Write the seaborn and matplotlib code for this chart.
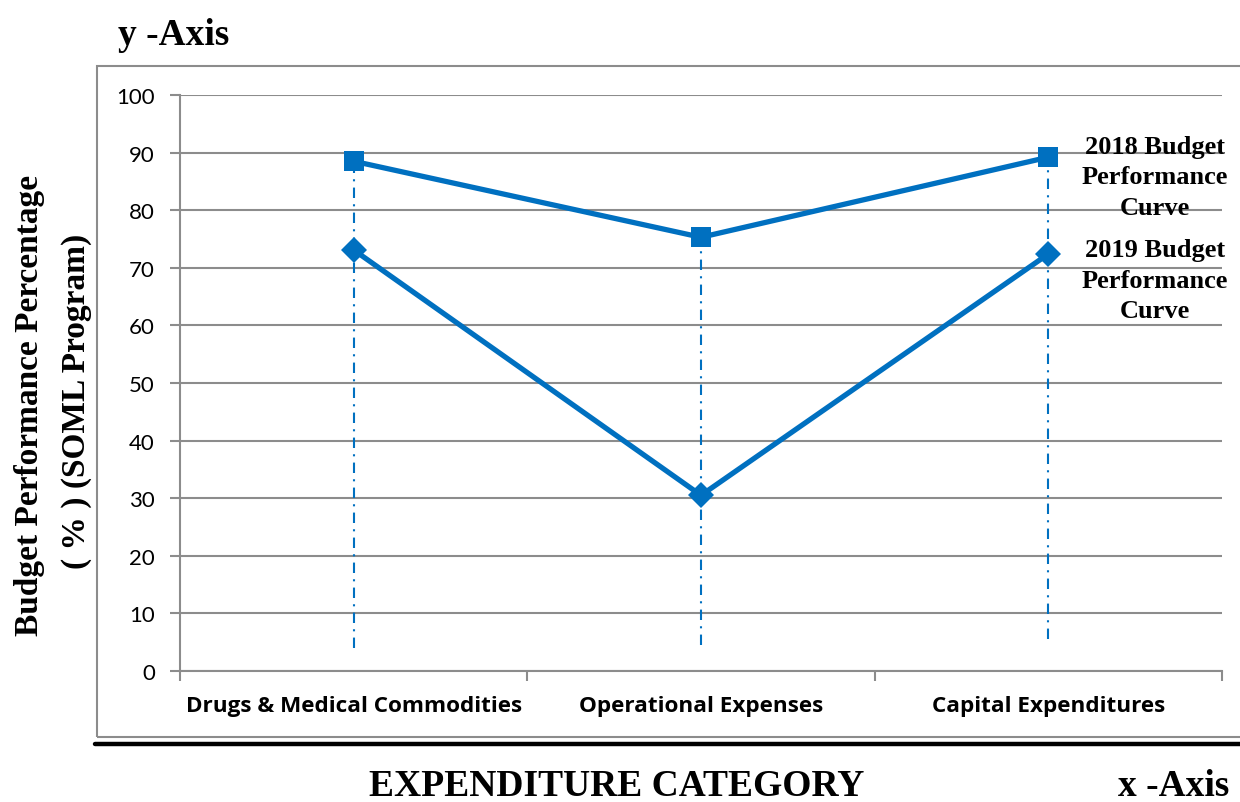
import matplotlib
matplotlib.use("Agg")
import matplotlib.pyplot as plt
import seaborn as sns
import pandas as pd
from matplotlib.patches import Rectangle
from matplotlib.lines import Line2D

categories = ["Drugs & Medical Commodities", "Operational Expenses", "Capital Expenditures"]
budget_2018 = [88.5, 75.3, 89.2]
budget_2019 = [73.1, 30.5, 72.4]
drop_bottom = [4.0, 4.5, 5.5]
y_ticks = [0, 10, 20, 30, 40, 50, 60, 70, 80, 90, 100]
series_labels = ["2018 Budget\nPerformance\nCurve", "2019 Budget\nPerformance\nCurve"]

BLUE = "#0070C0"
GRID = "#8C8C8C"

sns.set_theme(style="white")
plt.rcParams["font.family"] = ["Lato", "DejaVu Sans"]
plt.rcParams["text.color"] = "black"
plt.rcParams["xtick.labelcolor"] = "black"
plt.rcParams["ytick.labelcolor"] = "black"

fig = plt.figure(figsize=(12.4, 8.03), dpi=100)
ax = fig.add_axes([180/1240, 1-672/803, (1222-180)/1240, (672-96)/803])

xpos = list(range(len(categories)))
df18 = pd.DataFrame({"x": xpos, "y": budget_2018})
df19 = pd.DataFrame({"x": xpos, "y": budget_2019})

# drop lines
ax.vlines(xpos, drop_bottom, budget_2018, colors=BLUE, linewidth=1.5,
          linestyles=(0, (5, 3, 1, 3)), zorder=2)

sns.lineplot(data=df18, x="x", y="y", ax=ax, color=BLUE, linewidth=3.8,
             marker="s", markersize=15, markeredgewidth=0, zorder=4)
sns.lineplot(data=df19, x="x", y="y", ax=ax, color=BLUE, linewidth=3.8,
             marker="D", markersize=13, markeredgewidth=0, zorder=4)

ax.set_xlim(-0.5, len(categories) - 0.5)
ax.set_ylim(0, 100)
ax.set_yticks(y_ticks)
ax.set_yticklabels([str(v) for v in y_ticks], fontsize=16)
ax.set_xticks(xpos)
ax.set_xticklabels(categories, fontsize=16.2, fontweight="bold", family=["Open Sans", "DejaVu Sans"])
ax.set_xticks([i - 0.5 for i in range(len(categories) + 1)], minor=True)
ax.tick_params(axis="x", which="major", length=0, pad=17, colors="black")
ax.tick_params(axis="x", which="minor", length=7, width=1.5, color=GRID, direction="out", bottom=True)
ax.tick_params(axis="y", which="major", length=7, width=1.5, color=GRID, direction="out", left=True, pad=11)
ax.set_xlabel("")
ax.set_ylabel("")

ax.grid(axis="y", color=GRID, linewidth=1.5)
ax.grid(axis="x", visible=False)
ax.set_axisbelow(True)
for s in ["top", "right"]:
    ax.spines[s].set_visible(False)
for s in ["left", "bottom"]:
    ax.spines[s].set_color(GRID)
    ax.spines[s].set_linewidth(1.5)

serif = ["Liberation Serif", "DejaVu Serif"]

# series labels
fig.text(1155/1240, 1-178/803, series_labels[0], ha="center", va="center",
         multialignment="center", fontsize=19, fontweight="bold", family=serif,
         linespacing=1.42)
fig.text(1155/1240, 1-281/803, series_labels[1], ha="center", va="center",
         multialignment="center", fontsize=19, fontweight="bold", family=serif,
         linespacing=1.42)

# outer border and thick line
fig.add_artist(Rectangle((97/1240, 1-738/803), 1.2, (738-67)/803, transform=fig.transFigure,
                         fill=False, edgecolor=GRID, linewidth=1.5, zorder=0))
fig.add_artist(Line2D([95/1240, 1.0], [1-745/803, 1-745/803], transform=fig.transFigure,
                      color="black", linewidth=3.2))

# titles
fig.text(118/1240, 1-45/803, "y -Axis", ha="left", va="baseline", fontsize=27,
         fontweight="bold", family=serif)
fig.text(617/1240, 1-796/803, "EXPENDITURE CATEGORY", ha="center", va="baseline",
         fontsize=27, fontweight="bold", family=serif)
fig.text(1118/1240, 1-796/803, "x -Axis", ha="left", va="baseline", fontsize=27,
         fontweight="bold", family=serif)
fig.text(30/1240, 1-405/803, "Budget Performance Percentage", rotation=90, ha="center",
         va="center", fontsize=24, fontweight="bold", family=serif)
fig.text(77/1240, 1-401/803, "( % ) (SOML Program)", rotation=90, ha="center",
         va="center", fontsize=24, fontweight="bold", family=serif)

fig.savefig("out.png", dpi=100)
